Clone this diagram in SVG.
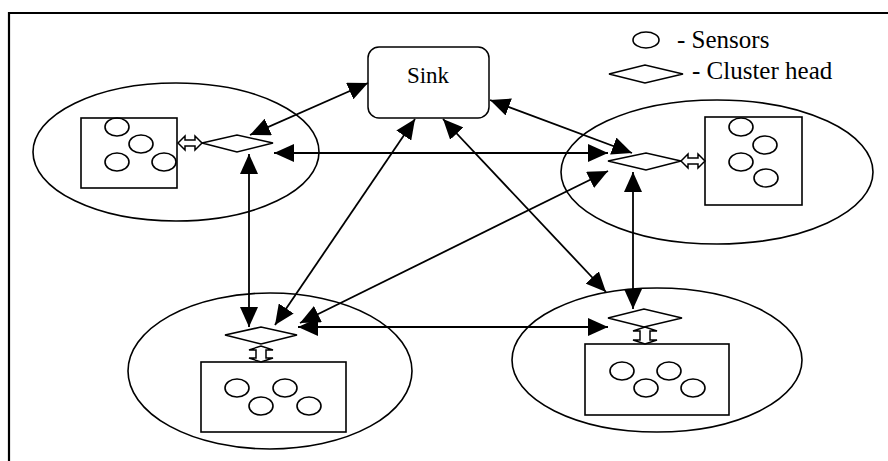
<svg xmlns="http://www.w3.org/2000/svg" width="888" height="461" viewBox="0 0 888 461">
<style>
.s{fill:none;stroke:#000;stroke-width:1.6}
.w{fill:#fff;stroke:#000;stroke-width:1.5}
.c{fill:none;stroke:#000;stroke-width:1.8;marker-start:url(#ah);marker-end:url(#ah)}
.t{font-family:"Liberation Serif","Times New Roman",serif;fill:#000}
</style>
<defs>
<marker id="ah" viewBox="0 0 20 18" refX="20" refY="9" markerWidth="20" markerHeight="18" markerUnits="userSpaceOnUse" orient="auto-start-reverse">
<path d="M0,0 L20,9 L0,18 z" fill="#000"/>
</marker>
</defs>
<path d="M9,461 V13 H888" fill="none" stroke="#000" stroke-width="2.2"/>
<g id="legend">
<ellipse cx="646" cy="40" rx="13" ry="8" class="s"/>
<text x="677" y="48" class="t" font-size="25">- Sensors</text>
<path d="M609,74 L645,65 L683,74 L645,83 z" class="s"/>
<text x="692" y="79" class="t" font-size="25">- Cluster head</text>
</g>
<g id="sink">
<rect x="368" y="47" width="121" height="71" rx="11" class="w"/>
<text x="428" y="83" text-anchor="middle" class="t" font-size="23">Sink</text>
</g>
<g id="cluster-tl">
<ellipse cx="176" cy="152" rx="143" ry="69" class="s"/>
<rect x="81" y="118" width="96" height="70" class="s"/>
<ellipse cx="117" cy="127" rx="12" ry="9" class="s"/>
<ellipse cx="141" cy="144" rx="12" ry="9" class="s"/>
<ellipse cx="117" cy="162" rx="12" ry="9" class="s"/>
<ellipse cx="164" cy="162" rx="12" ry="9" class="s"/>
<path d="M202,143 L237,135 L273,143 L237,152 z" class="s"/>
<path d="M178,143 L185,136 L185,140 L195,140 L195,136 L202,143 L195,150 L195,146 L185,146 L185,150 z" class="w"/>
</g>
<g id="cluster-tr">
<ellipse cx="717" cy="172" rx="156" ry="72" class="s"/>
<rect x="705" y="117" width="97" height="88" class="s"/>
<ellipse cx="741" cy="127" rx="12" ry="9" class="s"/>
<ellipse cx="765" cy="145" rx="12" ry="9" class="s"/>
<ellipse cx="741" cy="162" rx="12" ry="9" class="s"/>
<ellipse cx="766" cy="178" rx="12" ry="9" class="s"/>
<path d="M608,161 L646,153 L681,161 L646,170 z" class="s"/>
<path d="M681,161 L688,154 L688,158 L698,158 L698,154 L705,161 L698,168 L698,164 L688,164 L688,168 z" class="w"/>
</g>
<g id="cluster-bl">
<ellipse cx="270" cy="371" rx="142" ry="78" class="s"/>
<rect x="201" y="362" width="145" height="70" class="s"/>
<ellipse cx="237" cy="388" rx="12" ry="9" class="s"/>
<ellipse cx="285" cy="388" rx="12" ry="9" class="s"/>
<ellipse cx="261" cy="406" rx="12" ry="9" class="s"/>
<ellipse cx="309" cy="406" rx="12" ry="9" class="s"/>
<path d="M225,335 L261,327 L297,335 L261,344 z" class="s"/>
<path d="M249,350 L261,346 L273,350 L266,350 L266,358 L273,358 L261,362 L249,358 L256,358 L256,350 z" class="w"/>
</g>
<g id="cluster-br">
<ellipse cx="657" cy="360" rx="145" ry="72" class="s"/>
<rect x="585" y="344" width="144" height="71" class="s"/>
<ellipse cx="622" cy="371" rx="12" ry="9" class="s"/>
<ellipse cx="669" cy="371" rx="12" ry="9" class="s"/>
<ellipse cx="646" cy="388" rx="12" ry="9" class="s"/>
<ellipse cx="693" cy="388" rx="12" ry="9" class="s"/>
<path d="M608,318 L644,309 L682,318 L644,327 z" class="s"/>
<path d="M633,331 L645,327 L657,331 L650,331 L650,340 L657,340 L645,344 L633,340 L640,340 L640,331 z" class="w"/>
</g>
<g id="connectors">
<line x1="368" y1="83" x2="250" y2="135" class="c"/>
<line x1="490" y1="100" x2="632" y2="153" class="c"/>
<line x1="415" y1="119" x2="275" y2="325" class="c"/>
<line x1="443" y1="119" x2="606" y2="292" class="c"/>
<line x1="274" y1="153" x2="608" y2="153" class="c"/>
<line x1="249" y1="154" x2="249" y2="327" class="c"/>
<line x1="633" y1="172" x2="633" y2="309" class="c"/>
<line x1="608" y1="171" x2="300" y2="323" class="c"/>
<line x1="298" y1="327" x2="608" y2="327" class="c"/>
</g>
</svg>
